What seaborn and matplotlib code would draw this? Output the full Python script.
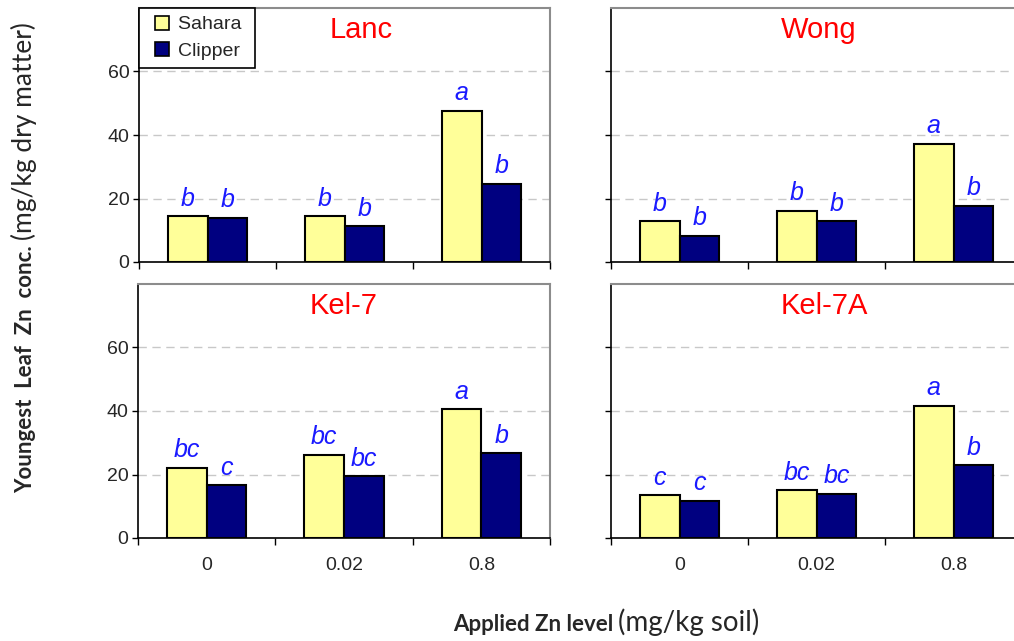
import numpy as np
import pandas as pd
import matplotlib
matplotlib.use("Agg")
import matplotlib.pyplot as plt
from matplotlib.lines import Line2D
import seaborn as sns

# ---------------- data ----------------
levels = ["0", "0.02", "0.8"]
varieties = ["Sahara", "Clipper"]
panels = ["Lanc", "Wong", "Kel-7", "Kel-7A"]

lanc_sahara = [14.5, 14.5, 47.6]
lanc_clipper = [14.0, 11.3, 24.7]
wong_sahara = [12.8, 16.1, 37.2]
wong_clipper = [8.3, 12.8, 17.7]
kel7_sahara = [22.2, 26.2, 40.6]
kel7_clipper = [16.7, 19.5, 26.7]
kel7a_sahara = [13.4, 15.1, 41.7]
kel7a_clipper = [11.8, 13.9, 22.9]

lanc_let_sahara = ["b", "b", "a"]
lanc_let_clipper = ["b", "b", "b"]
wong_let_sahara = ["b", "b", "a"]
wong_let_clipper = ["b", "b", "b"]
kel7_let_sahara = ["bc", "bc", "a"]
kel7_let_clipper = ["c", "bc", "b"]
kel7a_let_sahara = ["c", "bc", "a"]
kel7a_let_clipper = ["c", "bc", "b"]

yticks = [0, 20, 40, 60]

values = {
    "Lanc": (lanc_sahara, lanc_clipper),
    "Wong": (wong_sahara, wong_clipper),
    "Kel-7": (kel7_sahara, kel7_clipper),
    "Kel-7A": (kel7a_sahara, kel7a_clipper),
}
letters = {
    "Lanc": (lanc_let_sahara, lanc_let_clipper),
    "Wong": (wong_let_sahara, wong_let_clipper),
    "Kel-7": (kel7_let_sahara, kel7_let_clipper),
    "Kel-7A": (kel7a_let_sahara, kel7a_let_clipper),
}

rows = []
for p in panels:
    for v, arr in zip(varieties, values[p]):
        for lv, val in zip(levels, arr):
            rows.append({"panel": p, "level": lv, "variety": v, "value": val})
df = pd.DataFrame(rows)

# ---------------- style ----------------
sns.set_style("white")
plt.rcParams["font.family"] = ["Liberation Sans", "DejaVu Sans"]

W, H = 1014, 641
fig = plt.figure(figsize=(W / 100, H / 100), dpi=100)

palette = {"Sahara": "#FFFF99", "Clipper": "#000080"}

# axes rectangles in pixels: left, top, width, height
rects = {
    "Lanc": (139, 8, 411, 254),
    "Wong": (611, 8, 411, 254),
    "Kel-7": (138, 284, 412, 254),
    "Kel-7A": (611, 284, 411, 254),
}
title_x = {"Lanc": 0.54, "Wong": 0.505, "Kel-7": 0.5, "Kel-7A": 0.52}

for i, p in enumerate(panels):
    l, t, w, h = rects[p]
    ax = fig.add_axes([l / W, (H - t - h) / H, w / W, h / H])
    sub = df[df.panel == p]
    sns.barplot(data=sub, x="level", y="value", hue="variety", order=levels,
                hue_order=varieties, palette=palette, width=0.58, gap=0,
                edgecolor="black", linewidth=1.5, saturation=1, ax=ax,
                legend=False)
    ax.set_xlim(-0.5, 2.5)
    ax.set_ylim(0, 80)
    ax.set_xlabel("")
    ax.set_ylabel("")
    ax.set_yticks(yticks)
    ax.yaxis.grid(True, linestyle=(0, (6, 4)), color="#c8c8c8", linewidth=1)
    ax.set_axisbelow(True)
    for s in ["left", "bottom"]:
        ax.spines[s].set_color("black")
        ax.spines[s].set_linewidth(1.2)
    for s in ["top", "right"]:
        ax.spines[s].set_color("#8c8c8c")
        ax.spines[s].set_linewidth(1.5)

    # x ticks: marks at category boundaries, labels at centers
    ax.set_xticks([-0.5, 0.5, 1.5, 2.5])
    ax.set_xticklabels([])
    ax.set_xticks([0, 1, 2], minor=True)
    ax.tick_params(axis="x", which="major", direction="out", length=5,
                   width=1, color="black", bottom=True)
    ax.tick_params(axis="x", which="minor", length=0, pad=14, labelsize=14)
    if p in ("Kel-7", "Kel-7A"):
        ax.set_xticklabels(levels, minor=True)
    else:
        ax.set_xticklabels([], minor=True)
    ax.tick_params(axis="y", direction="out", length=4, width=1,
                   color="black", left=True, labelsize=14, pad=3)
    if p in ("Wong", "Kel-7A"):
        ax.set_yticklabels([])

    # significance letters
    for cont, labs in zip(ax.containers, letters[p]):
        for bar, lab in zip(cont.patches, labs):
            ax.annotate(lab, (bar.get_x() + bar.get_width() / 2, bar.get_height()),
                        xytext=(0, 7.5), textcoords="offset points",
                        ha="center", va="baseline", color="#1a1aff",
                        fontsize=18, style="italic")

    ax.text(title_x[p], 0.915, p, transform=ax.transAxes, ha="center",
            va="center", color="red", fontsize=21)

    if p == "Lanc":
        handles = [Line2D([], [], linestyle="none", marker="s", markersize=9.5,
                          markerfacecolor=palette[v], markeredgecolor="black",
                          markeredgewidth=1.2) for v in varieties]
        leg = ax.legend(handles, [v + " " for v in varieties], loc="upper left",
                        bbox_to_anchor=(0, 1), borderaxespad=0,
                        fontsize=14, frameon=True, fancybox=False,
                        handlelength=1.6, handletextpad=0.0,
                        labelspacing=0.45, borderpad=0.4)
        leg.get_frame().set_edgecolor("black")
        leg.get_frame().set_linewidth(1.2)
        leg.get_frame().set_alpha(1)

# ---------------- axis titles (mixed bold / regular) ----------------
lab_font = ["Lato", "DejaVu Sans"]
renderer = fig.canvas.get_renderer()

# y label (rotated, anchored on baseline)
t1 = fig.text(32 / W, (H - 493) / H, "Youngest  Leaf  Zn  conc.", rotation=90,
              rotation_mode="anchor", ha="left", va="baseline", fontsize=16,
              fontweight="bold", family=lab_font)
bb = t1.get_window_extent(renderer)
fig.text(32 / W, (bb.y1 + 5) / H, "(mg/kg dry matter)", rotation=90,
         rotation_mode="anchor", ha="left", va="baseline", fontsize=19,
         family=lab_font)

# x label
t3 = fig.text(453 / W, (H - 631) / H, "Applied Zn level", ha="left",
              va="baseline", fontsize=16, fontweight="bold", family=lab_font)
bb = t3.get_window_extent(renderer)
fig.text((bb.x1 + 5) / W, (H - 631) / H, "(mg/kg soil)", ha="left",
         va="baseline", fontsize=20, family=lab_font)

fig.savefig("out.png", dpi=100)
